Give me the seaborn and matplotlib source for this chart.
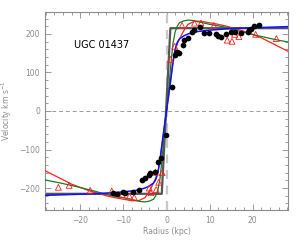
import matplotlib
matplotlib.use("Agg")
import matplotlib.pyplot as plt
import seaborn as sns
import pandas as pd
from matplotlib.ticker import MultipleLocator

# ---- data ----
title = "UGC 01437"

dots_r = [-12.5, -11.4, -10.2, -9.6, -7.8, -6.4, -5.8, -5.1, -4.1, -3.8, -2.6, -2.0, -1.2, -0.1,
          1.2, 1.9, 2.4, 2.9, 3.8, 4.0, 5.0, 5.9, 6.3, 7.7, 8.8, 9.8, 11.4, 11.9, 12.6, 13.7,
          15.0, 16.0, 17.4, 18.8, 19.1, 19.5, 20.3, 21.5]
dots_v = [-213, -216, -211, -212, -209, -205, -178, -175, -166, -162, -159, -133, -122, -63,
          62, 146, 153, 151, 171, 184, 190, 206, 209, 219, 203, 203, 199, 194, 193, 199,
          206, 206, 203, 206, 210, 213, 220, 223]

tri_r = [-25.1, -22.6, -17.7, -12.7, -10.3, -8.6, -7.5, -4.0, -3.6, -2.6, -2.4, -1.8, -1.0,
         0.9, 1.9, 3.6, 6.5, 8.0, 11.0, 14.1, 15.2, 15.8, 16.8, 20.7, 25.5]
tri_v = [-198, -193, -206, -208, -217, -221, -224, -200, -212, -159, -204, -185, -160,
         134, 168, 222, 228, 228, 222, 184, 181, 199, 193, 199, 188]

flat_r = [-28.2, -1.1, 0.9, 28.2]
flat_v = [-215, -215, 215, 215]

blue_r = [-28.2, -20, -15, -10, -7, -5, -4, -3, -2.5, -2, -1.5, -1, -0.5, 0,
          0.5, 1, 1.5, 2, 2.5, 3, 4, 5, 7, 10, 15, 20, 28.2]
blue_v = [-219, -216, -214, -210, -206, -200, -195, -187, -178, -160, -125, -82, -40, 0,
          40, 82, 125, 160, 178, 187, 195, 200, 206, 210, 214, 216, 219]

green_r = [-28.2, -25, -21, -17, -13.5, -10, -8, -6, -5, -4, -3, -2.5, -2, -1.5, -1, -0.5, 0,
           0.5, 1, 1.5, 2, 2.5, 3, 4, 5, 6, 8, 10, 13.5, 17, 21, 25, 28.2]
green_v = [-179, -186, -196, -207, -218, -225, -230, -235, -236, -234, -229, -220, -205, -175, -120, -55, 0,
           55, 120, 175, 205, 220, 229, 234, 236, 235, 230, 225, 218, 207, 196, 186, 179]

red_r = [-28.2, -25, -22, -18, -14, -12, -10, -8, -6.5, -5, -4.2, -3.5, -2.6, -2, -1.5, -1, -0.5, 0,
         0.5, 1, 1.5, 2, 2.6, 3.5, 4.2, 5, 6.5, 8, 10, 12, 14, 18, 22, 25, 28.2]
red_v = [-155, -173, -190, -207, -220, -225, -229, -233, -233, -225, -212, -198, -177, -158, -130, -85, -42, 0,
         42, 85, 130, 158, 177, 198, 212, 225, 233, 233, 229, 225, 220, 207, 190, 173, 155]

x_ticks = [-20, -10, 0, 10, 20]
y_ticks = [-200, -100, 0, 100, 200]

# ---- plot ----
sns.set_style("ticks")
plt.rcParams['font.family'] = ['DejaVu Sans']

fig = plt.figure(figsize=(3.0, 2.4), dpi=100)
ax = fig.add_axes([0.15, 0.125, 0.81, 0.825])

gray = "#8c8c8c"
ax.axhline(0, color="#9a9a9a", lw=0.7, ls=(0, (4, 3)), zorder=1)
ax.axvline(0, color="#c8c8c8", lw=1.6, ls=(0, (4, 3)), zorder=1)

sns.lineplot(x=flat_r, y=flat_v, ax=ax, color="#555555", lw=1.6, sort=False, zorder=2)
sns.lineplot(x=red_r, y=red_v, ax=ax, color="#ff2020", lw=0.9, sort=False, zorder=3)
sns.lineplot(x=green_r, y=green_v, ax=ax, color="#1a7a1a", lw=0.9, sort=False, zorder=3)
sns.lineplot(x=blue_r, y=blue_v, ax=ax, color="#1010ff", lw=1.1, sort=False, zorder=4)

sns.scatterplot(x=tri_r, y=tri_v, ax=ax, marker="^", s=18, facecolor="none",
                edgecolor="#ff2020", linewidth=0.6, zorder=5)
sns.scatterplot(x=dots_r, y=dots_v, ax=ax, marker="o", s=17, color="black",
                edgecolor="black", linewidth=0, zorder=6)

ax.set_xlim(-28.2, 28.2)
ax.set_ylim(-257, 257)
ax.set_xticks(x_ticks)
ax.set_yticks(y_ticks)
ax.xaxis.set_minor_locator(MultipleLocator(2))
ax.yaxis.set_minor_locator(MultipleLocator(20))
ax.tick_params(which="both", direction="in", top=True, right=True, colors=gray,
               labelcolor=gray, labelsize=5.5, width=0.6)
ax.tick_params(which="major", length=4)
ax.tick_params(which="minor", length=2)
ax.tick_params(axis="x", pad=4)
for s in ax.spines.values():
    s.set_color(gray)
    s.set_linewidth(0.8)

ax.set_xlabel("Radius (kpc)", fontsize=5.5, color=gray, labelpad=2)
ax.set_ylabel("Velocity km s$^{-1}$", fontsize=5.5, color=gray, labelpad=4)
ax.text(-21.5, 172, title, fontsize=7, color="black", va="center", ha="left")

fig.savefig("out.png", dpi=100)
